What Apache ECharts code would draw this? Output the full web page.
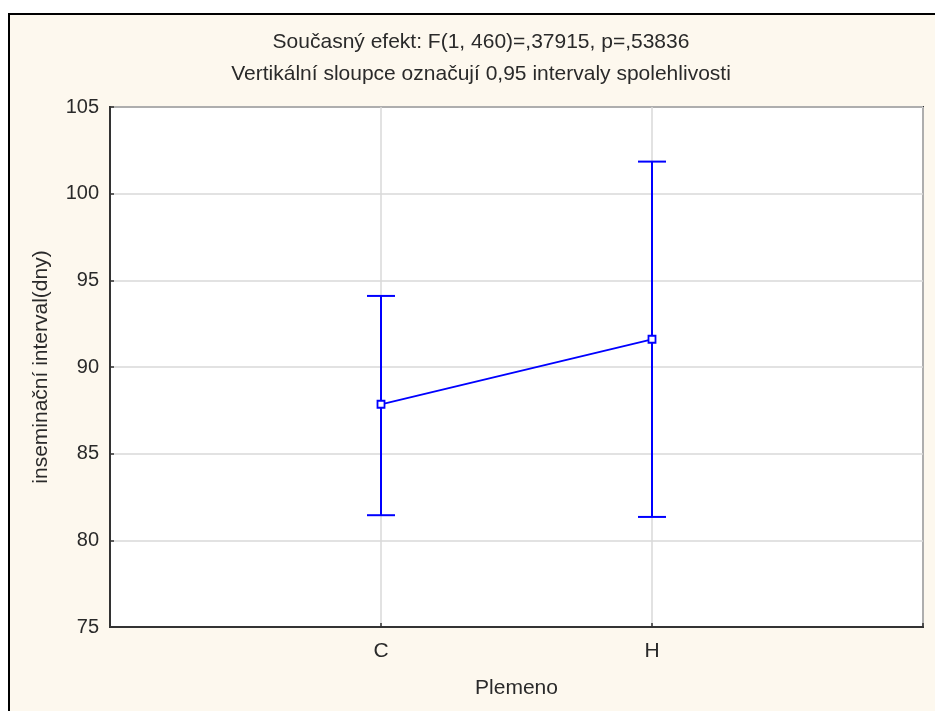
<!DOCTYPE html>
<html>
<head>
<meta charset="utf-8">
<script src="https://cdn.jsdelivr.net/npm/echarts@6/dist/echarts.min.js"></script>
<style>
  html, body { margin: 0; padding: 0; width: 935px; height: 711px; overflow: hidden; background: #ffffff; }
  #frame { position: absolute; left: 8px; top: 13px; width: 1000px; height: 1000px; background: #fdf8ee; border-left: 2px solid #000; border-top: 2px solid #000; }
  #main { position: absolute; left: 0; top: 0; width: 935px; height: 711px; }
</style>
</head>
<body>
<div id="frame"></div>
<div id="main"></div>
<script>
const categories = ['C', 'H'];
const means = [87.85, 91.6];
const lowerCI = [81.45, 81.35];
const upperCI = [94.1, 101.85];
const titleLines = [
  'Současný efekt: F(1, 460)=,37915, p=,53836',
  'Vertikální sloupce označují 0,95 intervaly spolehlivosti'
];
const yAxisName = 'inseminační interval(dny)';
const xAxisName = 'Plemeno';

const FONT = 'Liberation Sans';
const TXT = '#2a2a2a';
const BLUE = '#0000ff';

const chart = echarts.init(document.getElementById('main'), null, { renderer: 'canvas' });

const meanData = categories.map((c, i) => [i + 1, means[i]]);
const ciData = categories.map((c, i) => [i + 1, lowerCI[i], upperCI[i]]);

chart.setOption({
  backgroundColor: 'transparent',
  animation: false,
  graphic: [
    { type: 'text', x: 481, y: 42, style: { text: titleLines[0], font: '21px "' + FONT + '"', fill: TXT, textAlign: 'center', textVerticalAlign: 'middle' } },
    { type: 'text', x: 481, y: 74, style: { text: titleLines[1], font: '21px "' + FONT + '"', fill: TXT, textAlign: 'center', textVerticalAlign: 'middle' } }
  ],
  grid: {
    left: 110, top: 107, width: 813, height: 520,
    show: true, backgroundColor: '#ffffff', borderColor: '#333', borderWidth: 2
  },
  xAxis: {
    type: 'value', min: 0, max: 3, interval: 1,
    name: xAxisName, nameLocation: 'middle', nameGap: 51,
    nameTextStyle: { fontFamily: FONT, fontSize: 21, color: TXT },
    axisLine: { show: true, lineStyle: { color: '#333', width: 2 } },
    axisTick: { show: true, inside: true, length: 4, lineStyle: { color: '#333', width: 1.5 } },
    axisLabel: {
      fontFamily: FONT, fontSize: 21, color: TXT, margin: 14,
      formatter: v => (categories[v - 1] !== undefined ? categories[v - 1] : '')
    },
    splitLine: { show: true, lineStyle: { color: '#d9d9d9', width: 1.5 } }
  },
  yAxis: {
    type: 'value', min: 75, max: 105, interval: 5,
    name: yAxisName, nameLocation: 'middle', nameGap: 58, nameRotate: 90,
    nameTextStyle: { fontFamily: FONT, fontSize: 21, color: TXT },
    axisLine: { show: true, lineStyle: { color: '#333', width: 2 } },
    axisTick: { show: true, inside: true, length: 4, lineStyle: { color: '#333', width: 1.5 } },
    axisLabel: { fontFamily: FONT, fontSize: 20, color: TXT, margin: 11 },
    splitLine: { show: true, lineStyle: { color: '#d9d9d9', width: 1.5 } }
  },
  series: [
    {
      type: 'custom',
      data: ciData,
      z: 3,
      renderItem: function (params, api) {
        const x = api.value(0);
        const lo = api.coord([x, api.value(1)]);
        const hi = api.coord([x, api.value(2)]);
        const hw = 14;
        const style = { stroke: BLUE, lineWidth: 2 };
        return {
          type: 'group',
          children: [
            { type: 'line', shape: { x1: lo[0], y1: lo[1], x2: hi[0], y2: hi[1] }, style: style },
            { type: 'line', shape: { x1: lo[0] - hw, y1: lo[1], x2: lo[0] + hw, y2: lo[1] }, style: style },
            { type: 'line', shape: { x1: hi[0] - hw, y1: hi[1], x2: hi[0] + hw, y2: hi[1] }, style: style }
          ]
        };
      }
    },
    {
      type: 'line',
      data: meanData,
      z: 4,
      symbol: 'rect',
      symbolSize: 7,
      lineStyle: { color: BLUE, width: 1.8 },
      itemStyle: { color: '#ffffff', borderColor: BLUE, borderWidth: 1.8 }
    }
  ]
});
</script>
</body>
</html>
